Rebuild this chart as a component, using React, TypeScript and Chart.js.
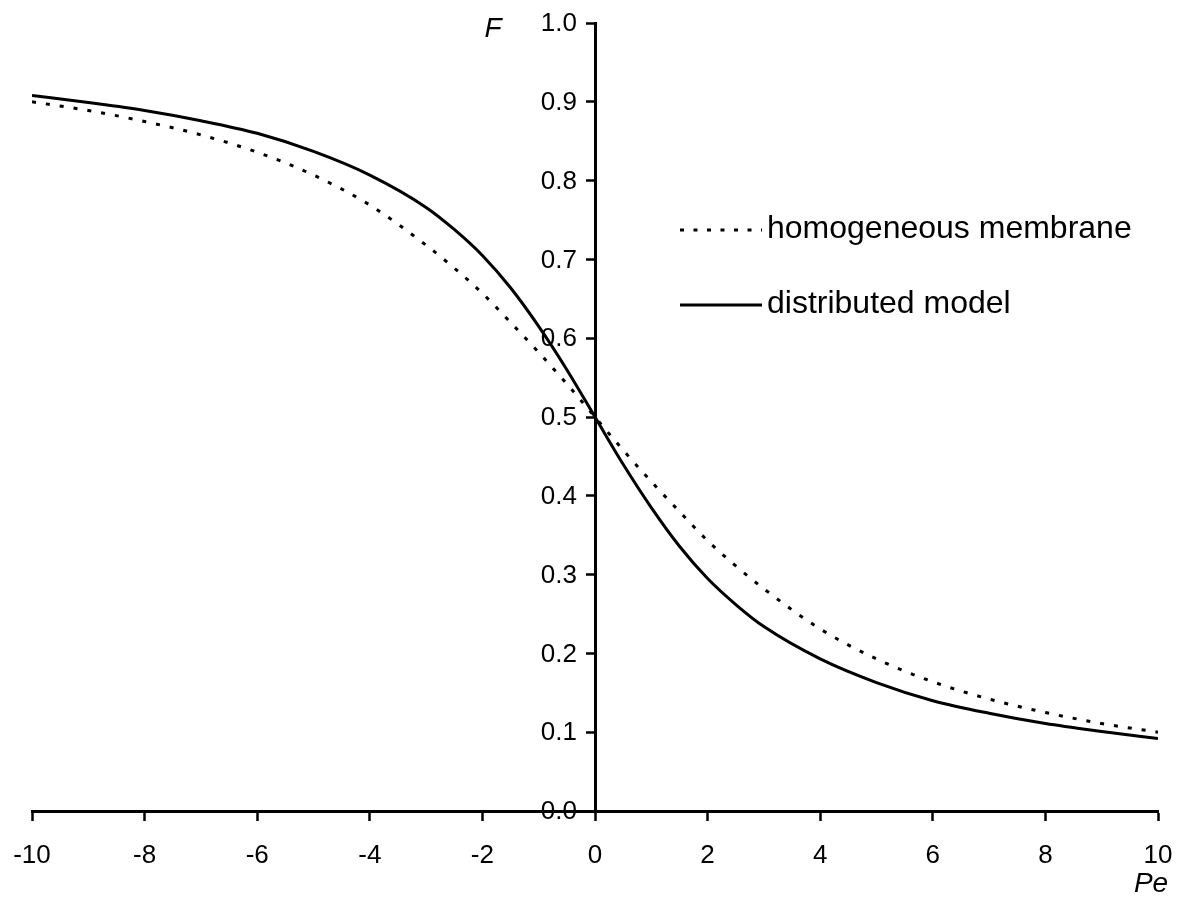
import React, { useEffect, useRef } from "react";
import { Chart, registerables } from "chart.js";

Chart.register(...registerables);

const peValues = [-10, -9, -8, -7, -6, -5, -4, -3, -2.5, -2, -1.5, -1, -0.5, 0, 0.5, 1, 1.5, 2, 2.5, 3, 4, 5, 6, 7, 8, 9, 10];
const homogeneous = [0.9, 0.889, 0.875, 0.858, 0.836, 0.807, 0.769, 0.718, 0.689, 0.657, 0.62, 0.582, 0.542, 0.5, 0.458, 0.418, 0.38, 0.343, 0.311, 0.282, 0.231, 0.193, 0.164, 0.142, 0.125, 0.111, 0.1];
const distributed = [0.908, 0.899, 0.889, 0.876, 0.86, 0.837, 0.807, 0.766, 0.738, 0.705, 0.664, 0.615, 0.56, 0.5, 0.44, 0.385, 0.336, 0.295, 0.262, 0.234, 0.193, 0.163, 0.14, 0.124, 0.111, 0.101, 0.092];
const seriesLabels = ["homogeneous membrane", "distributed model"];
const xAxisLabel = "Pe";
const yAxisLabel = "F";

const FONT = "'Liberation Sans', Arial, sans-serif";

const overlayPlugin = {
  id: "overlay",
  afterDraw(chart: any) {
    const ctx = chart.ctx;
    const xs = chart.scales.x;
    const ys = chart.scales.y;
    ctx.save();
    ctx.fillStyle = "#000";
    ctx.strokeStyle = "#000";
    // y tick labels, taken from the y scale's own ticks
    const axisX = xs.getPixelForValue(0);
    ctx.font = `26px ${FONT}`;
    ctx.textAlign = "right";
    ctx.textBaseline = "middle";
    ys.ticks.forEach((t: any) => {
      ctx.fillText(Number(t.value).toFixed(1), axisX - 18, ys.getPixelForValue(t.value) + 1);
    });
    // axis titles
    ctx.font = `italic 28px ${FONT}`;
    ctx.textAlign = "center";
    ctx.textBaseline = "middle";
    ctx.fillText(yAxisLabel, 493, 29);
    ctx.fillText(xAxisLabel, 1151, 884);
    // legend
    const items = [
      { y: 230, dash: [4, 9.5] },
      { y: 305, dash: [] as number[] },
    ];
    items.forEach((it, i) => {
      ctx.lineWidth = 3;
      ctx.setLineDash(it.dash);
      ctx.beginPath();
      ctx.moveTo(680, it.y);
      ctx.lineTo(762, it.y);
      ctx.stroke();
      ctx.setLineDash([]);
      ctx.font = `32px ${FONT}`;
      ctx.textAlign = "left";
      ctx.textBaseline = "middle";
      ctx.fillText(seriesLabels[i], 767, it.y - 1);
    });
    ctx.restore();
  },
};

export default function App() {
  const ref = useRef<HTMLCanvasElement>(null);
  useEffect(() => {
    if (!ref.current) return;
    const zeroFit = (scale: any) => {
      if (scale.axis === "y") scale.width = 0;
      else scale.height = 0;
      scale.paddingLeft = 0;
      scale.paddingRight = 0;
      scale.paddingTop = 0;
      scale.paddingBottom = 0;
    };
    const chart = new Chart(ref.current, {
      type: "line",
      data: {
        datasets: [
          {
            label: seriesLabels[0],
            data: peValues.map((x, i) => ({ x, y: homogeneous[i] })),
            borderColor: "#000",
            borderWidth: 3,
            borderDash: [4, 10],
            pointRadius: 0,
            cubicInterpolationMode: "monotone",
            fill: false,
          },
          {
            label: seriesLabels[1],
            data: peValues.map((x, i) => ({ x, y: distributed[i] })),
            borderColor: "#000",
            borderWidth: 3,
            pointRadius: 0,
            cubicInterpolationMode: "monotone",
            fill: false,
          },
        ],
      },
      options: {
        responsive: false,
        animation: false,
        layout: { padding: { left: 32, right: 23, top: 23, bottom: 86 } },
        plugins: { legend: { display: false }, tooltip: { enabled: false } },
        scales: {
          x: {
            type: "linear",
            min: -10,
            max: 10,
            position: { y: 0 } as any,
            afterFit: zeroFit,
            border: { display: true, color: "#000", width: 3 },
            grid: { drawOnChartArea: false, drawTicks: true, tickLength: 8, tickWidth: 2.5, tickColor: "#000" },
            ticks: {
              stepSize: 2,
              color: "#000",
              padding: 21,
              maxRotation: 0,
              font: { family: FONT, size: 26 },
              callback: (v: any) => String(v),
            },
          },
          y: {
            type: "linear",
            min: 0,
            max: 1,
            position: { x: 0 } as any,
            afterFit: zeroFit,
            border: { display: true, color: "#000", width: 3 },
            grid: { drawOnChartArea: false, drawTicks: true, tickLength: 8, tickWidth: 2.5, tickColor: "#000" },
            ticks: {
              stepSize: 0.1,
              color: "rgba(0,0,0,0)",
              font: { family: FONT, size: 26 },
              callback: (v: any) => Number(v).toFixed(1),
            },
          },
        },
      },
      plugins: [overlayPlugin],
    });
    return () => chart.destroy();
  }, []);
  return (
    <div style={{ position: "fixed", left: 0, top: 0, width: 1181, height: 897, background: "#fff" }}>
      <canvas ref={ref} width={1181} height={897} />
    </div>
  );
}
